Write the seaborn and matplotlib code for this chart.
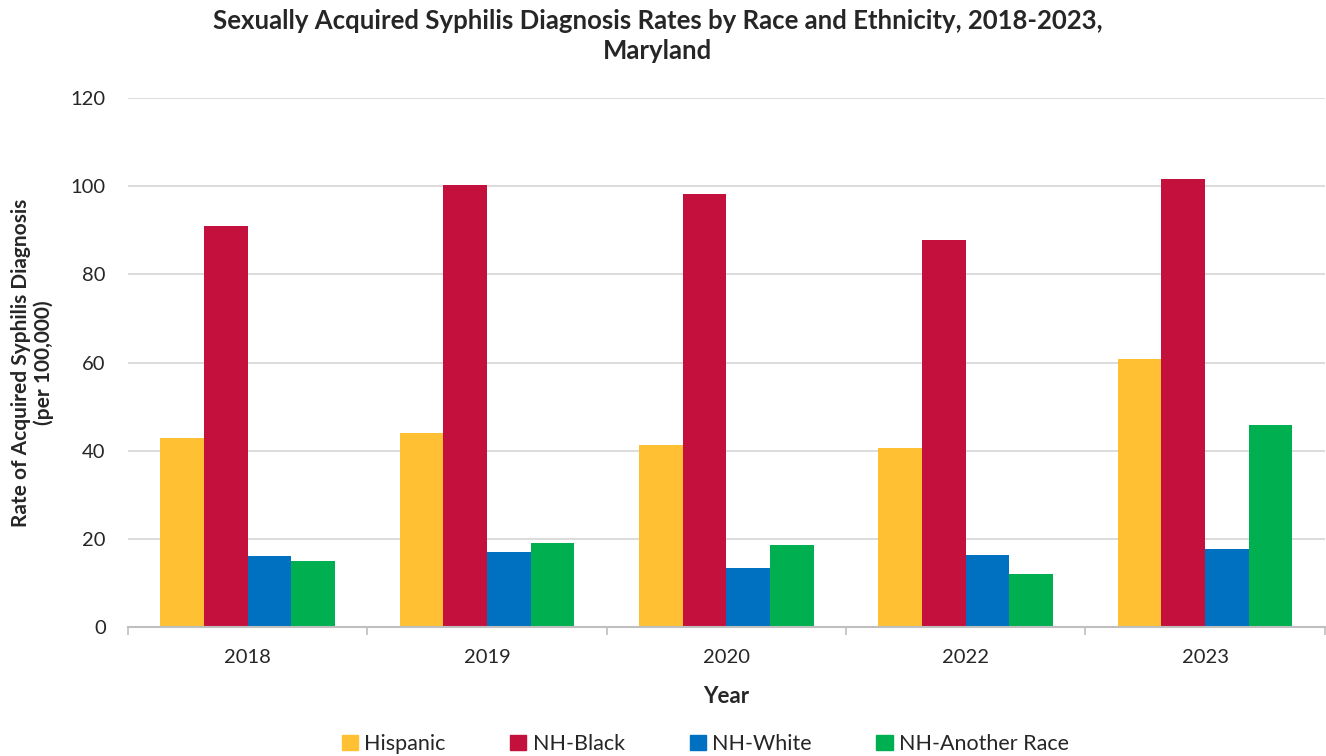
import matplotlib
matplotlib.use("Agg")
import matplotlib.pyplot as plt
import pandas as pd
import seaborn as sns

years = ["2018", "2019", "2020", "2022", "2023"]
groups = ["Hispanic", "NH-Black", "NH-White", "NH-Another Race"]
hispanic = [42.9, 44.0, 41.3, 40.7, 60.8]
nh_black = [90.9, 100.2, 98.2, 87.8, 101.6]
nh_white = [16.0, 17.1, 13.4, 16.4, 17.8]
nh_another = [15.0, 19.0, 18.6, 12.0, 45.9]
colors = ["#FFC133", "#C3103C", "#0070C0", "#00B050"]

rows = []
for g, vals in zip(groups, [hispanic, nh_black, nh_white, nh_another]):
    for y, v in zip(years, vals):
        rows.append({"Year": y, "Group": g, "Rate": v})
df = pd.DataFrame(rows)

sns.set_theme(style="white")
plt.rcParams["font.family"] = ["Lato", "DejaVu Sans"]

fig = plt.figure(figsize=(13.26, 7.56), dpi=100)
ax = fig.add_axes([0.0965, 0.1706, 0.9025, 0.6998])

sns.barplot(data=df, x="Year", y="Rate", hue="Group", order=years, hue_order=groups,
            palette=colors, width=0.73, gap=0, saturation=1, linewidth=0, ax=ax)

ax.set_ylim(0, 120)
ax.set_yticks(range(0, 121, 20))
ax.set_xlim(-0.5, 4.5)
ax.yaxis.grid(True, color="#d9d9d9", linewidth=1.3)
ax.set_axisbelow(True)
for s in ["top", "right", "left"]:
    ax.spines[s].set_visible(False)
ax.spines["bottom"].set_color("#bfbfbf")
ax.spines["bottom"].set_linewidth(1.5)

# category boundary ticks on x axis
ax.set_xticks([i - 0.5 for i in range(6)], minor=True)
ax.tick_params(axis="x", which="minor", length=6, color="#bfbfbf", width=1.2, bottom=True)
ax.tick_params(axis="x", which="major", length=0, labelsize=14.5, pad=16)
ax.tick_params(axis="y", length=0, labelsize=14.5, pad=16)

ax.set_xlabel("Year", fontsize=16, fontweight="bold", labelpad=14)
ax.set_ylabel("Rate of Acquired Syphilis Diagnosis\n(per 100,000)", fontsize=15,
              fontweight="bold", linespacing=1.15)
ax.yaxis.set_label_coords(-0.062, 0.5)

fig.suptitle("Sexually Acquired Syphilis Diagnosis Rates by Race and Ethnicity, 2018-2023,\nMaryland",
             x=0.496, y=0.988, fontsize=18.5, fontweight="bold", linespacing=1.3)

ax.legend_.remove()
handles = [plt.Rectangle((0, 0), 1, 1, color=c) for c in colors]
fig.legend(handles, groups, loc="center", bbox_to_anchor=(0.532, 0.016), ncol=4,
           frameon=False, fontsize=15.5, handlelength=0.75, handleheight=0.75,
           handletextpad=0.3, columnspacing=3.0)

fig.savefig("out.png", dpi=100)
